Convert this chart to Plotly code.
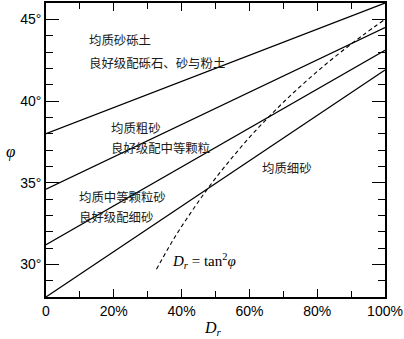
import plotly.graph_objects as go

# Relative density axis (percent) and friction angle (degrees)
dr_ends = [0, 100]
phi_gravel = [38.0, 46.0]      # 均质砂砾土 / 良好级配砾石、砂与粉土
phi_coarse = [34.6, 44.5]      # 均质粗砂 / 良好级配中等颗粒
phi_medium = [31.2, 43.1]      # 均质中等颗粒砂 / 良好级配细砂
phi_fine = [28.0, 41.9]        # 均质细砂

# Dashed curve Dr = tan^2(phi)
curve_phi = [29.7, 31, 32, 33, 34, 35, 36, 37, 38, 39, 40, 41, 42, 43, 44, 45]
curve_dr = [32.6, 36.1, 39.0, 42.2, 45.5, 49.0, 52.8, 56.8, 61.0, 65.6, 70.4, 75.6, 81.1, 87.0, 93.3, 100.0]

x_tickvals = [0, 20, 40, 60, 80, 100]
x_ticktext = ["0", "20%", "40%", "60%", "80%", "100%"]
y_tickvals = [30, 35, 40, 45]
y_ticktext = ["30°", "35°", "40°", "45°"]

labels = [
    ("均质砂砾土", 12.0, 43.73),
    ("良好级配砾石、砂与粉土", 12.0, 42.35),
    ("均质粗砂", 18.5, 38.37),
    ("良好级配中等颗粒", 18.5, 37.1),
    ("均质中等颗粒砂", 9.1, 34.1),
    ("良好级配细砂", 9.1, 32.9),
    ("均质细砂", 63.0, 35.9),
]

fig = go.Figure()
for ys in (phi_gravel, phi_coarse, phi_medium, phi_fine):
    fig.add_trace(go.Scatter(x=dr_ends, y=ys, mode="lines",
                             line=dict(color="black", width=1.2),
                             showlegend=False, hoverinfo="skip"))

fig.add_trace(go.Scatter(x=curve_dr, y=curve_phi, mode="lines",
                         line=dict(color="black", width=1.1, dash="4px,3px", shape="spline"),
                         showlegend=False, hoverinfo="skip"))

cjk = dict(family="Noto Sans CJK SC", size=12.4, color="#1a1a1a")
for text, x, y in labels:
    fig.add_annotation(x=x, y=y, text=text, showarrow=False,
                       xanchor="left", yanchor="middle", font=cjk)

fig.add_annotation(x=36.7, y=30.18, text="<i>D</i><sub><i>r</i></sub> = tan<sup>2</sup><i>φ</i>",
                   showarrow=False, xanchor="left", yanchor="middle",
                   font=dict(family="Liberation Serif", size=15, color="black"))

# Axis titles
fig.add_annotation(xref="paper", yref="paper", x=-0.105, y=0.495, text="<i>φ</i>",
                   showarrow=False, xanchor="center", yanchor="middle",
                   font=dict(family="Liberation Serif", size=17, color="black"))
fig.add_annotation(xref="paper", yref="paper", x=0.494, y=-0.108,
                   text="<i>D</i><sub><i>r</i></sub>", showarrow=False,
                   xanchor="center", yanchor="middle",
                   font=dict(family="Liberation Serif", size=16, color="black"))

tick_font = dict(family="Liberation Sans", size=14, color="black")
fig.update_xaxes(range=[0, 100], tickvals=x_tickvals, ticktext=x_ticktext,
                 ticks="inside", ticklen=8, tickwidth=1, tickcolor="black",
                 minor=dict(tickvals=[10, 30, 50, 70, 90], ticks="inside", ticklen=6,
                            tickwidth=1, tickcolor="black"),
                 showline=True, linecolor="black", linewidth=1.5, mirror="allticks",
                 showgrid=False, zeroline=False, tickfont=tick_font,
                 ticklabeloverflow="allow")
fig.update_yaxes(range=[28, 46], tickvals=y_tickvals, ticktext=y_ticktext,
                 ticks="inside", ticklen=13, tickwidth=1, tickcolor="black",
                 minor=dict(tickvals=[29, 31, 32, 33, 34, 36, 37, 38, 39, 41, 42, 43, 44],
                            ticks="inside", ticklen=7, tickwidth=1, tickcolor="black"),
                 showline=True, linecolor="black", linewidth=1.5, mirror="allticks",
                 showgrid=False, zeroline=False, tickfont=tick_font,
                 ticklabeloverflow="allow")

fig.update_layout(width=404, height=339, margin=dict(l=46, r=16, t=1, b=42),
                  plot_bgcolor="white", paper_bgcolor="white")

fig.write_html("out.html")
